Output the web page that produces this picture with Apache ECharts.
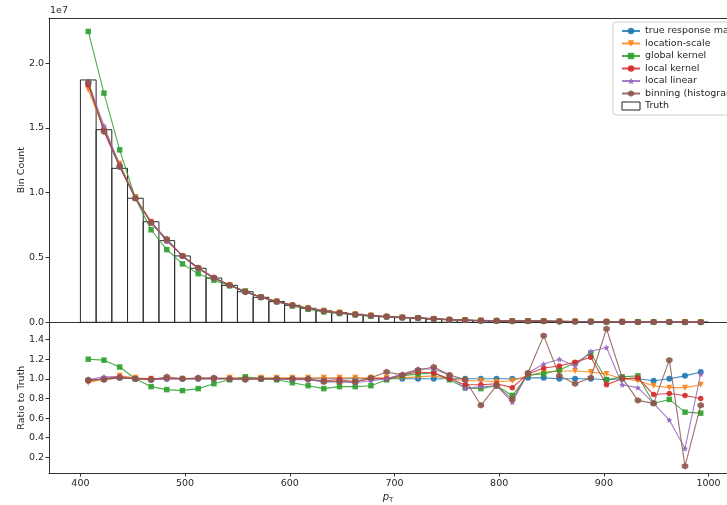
<!DOCTYPE html>
<html><head><meta charset="utf-8">
<script src="https://cdn.jsdelivr.net/npm/echarts@6/dist/echarts.min.js"></script>
<style>html,body{margin:0;padding:0;background:#fff}#c{width:727px;height:505px}</style>
</head><body><div id="c"></div>
<script>
// ---- data ----
const binEdges = [400,415,430,445,460,475,490,505,520,535,550,565,580,595,610,625,640,655,670,685,700,715,730,745,760,775,790,805,820,835,850,865,880,895,910,925,940,955,970,985,1000];
// Truth bin counts, in units of 1e7
const truthE7 = [1.870,1.486,1.188,0.957,0.776,0.630,0.512,0.417,0.342,0.285,0.236,0.193,0.160,0.131,0.108,0.089,0.074,0.062,0.051,0.043,0.036,0.031,0.025,0.020,0.017,0.0145,0.0123,0.0105,0.0089,0.0076,0.0065,0.0055,0.0047,0.0040,0.0034,0.0029,0.0025,0.0021,0.0018,0.0015];
// Ratio to truth per method
const ratioTrueResponse = [0.98,1.00,1.01,1.00,0.99,1.00,1.00,1.00,1.00,1.00, 1.00,1.00,1.00,1.00,1.00,1.00,1.00,1.00,1.00,1.00, 1.00,1.00,1.00,1.00,1.00,1.00,1.00,1.00,1.01,1.01, 1.00,1.00,1.00,0.99,1.00,1.00,0.98,1.00,1.03,1.07];
const ratioLocationScale = [0.96,1.00,1.03,1.01,1.00,1.00,1.00,1.00,1.00,1.01, 1.01,1.01,1.01,1.01,1.01,1.01,1.01,1.01,1.01,1.01, 1.01,1.02,1.03,1.00,0.98,0.98,0.97,0.98,1.03,1.07, 1.08,1.08,1.07,1.05,1.00,0.98,0.93,0.91,0.91,0.94];
const ratioGlobalKernel = [1.20,1.19,1.12,1.00,0.92,0.89,0.88,0.90,0.95,0.99, 1.02,1.00,0.99,0.96,0.93,0.90,0.92,0.92,0.93,0.99, 1.03,1.05,1.06,0.99,0.91,0.90,0.93,0.83,1.04,1.05, 1.09,1.16,1.26,0.99,1.02,1.03,0.75,0.79,0.66,0.65];
const ratioLocalKernel = [0.98,1.00,1.02,1.00,1.00,1.00,1.00,1.00,1.00,1.00, 1.00,1.00,1.00,1.00,0.99,0.98,0.99,0.97,1.00,1.00, 1.04,1.07,1.06,1.00,0.94,0.94,0.95,0.91,1.05,1.11, 1.13,1.17,1.22,0.94,1.00,1.01,0.84,0.85,0.83,0.80];
const ratioLocalLinear = [0.99,1.02,1.02,1.00,0.99,1.00,1.00,1.00,1.00,1.00, 1.00,1.00,1.00,0.99,0.99,0.97,0.97,0.96,0.98,1.00, 1.05,1.10,1.10,1.04,0.90,0.92,0.93,0.76,1.06,1.15, 1.20,1.13,1.28,1.32,0.94,0.91,0.75,0.58,0.29,1.05];
const ratioBinning = [0.99,0.99,1.01,1.00,0.99,1.02,1.00,1.01,1.01,1.00, 0.99,1.00,1.00,1.00,1.00,0.97,0.97,0.97,1.01,1.07, 1.04,1.09,1.12,1.04,0.99,0.73,0.93,0.79,1.06,1.44, 1.03,0.95,1.01,1.51,1.01,0.78,0.75,1.19,0.11,0.73];
const methodNames = ['true response matrix','location-scale','global kernel','local kernel','local linear','binning (histogram)'];
const xTicks = [400,500,600,700,800,900,1000];
const countTicks = [0.0,0.5,1.0,1.5,2.0];
const ratioTicks = [0.2,0.4,0.6,0.8,1.0,1.2,1.4];

// ---- styling ----
const ratios = [ratioTrueResponse, ratioLocationScale, ratioGlobalKernel, ratioLocalKernel, ratioLocalLinear, ratioBinning];
const colors = ['#1f77b4','#ff7f0e','#2ca02c','#d62728','#9467bd','#8c564b'];
const star = 'path://M0,-10L2.9,-4L9.5,-3.1L4.8,1.5L5.9,8.1L0,5L-5.9,8.1L-4.8,1.5L-9.5,-3.1L-2.9,-4Z';
const hexagon = 'path://M0,-10L8.66,-5L8.66,5L0,10L-8.66,5L-8.66,-5Z';
const symbols = ['circle','triangle','rect','circle',star,hexagon];
const symRot = [0,180,0,0,0,0];
const symSize = [6,6,5.5,5.5,6,6.5];
const FONT = 'DejaVu Sans';
const txt = '#262626';
const spine = '#333';
// visible x-range: the figure is cropped on the right, so the axis ends past 1000
const xMin = 370, xMaxVisible = 1017.6;

const centers = binEdges.slice(0,-1).map((e,i)=>(e+binEdges[i+1])/2);

const series = [];
series.push({
  name:'Truth', type:'custom', xAxisIndex:0, yAxisIndex:0, z:1,
  data: truthE7.map((v,i)=>[binEdges[i], binEdges[i+1], v]),
  encode:{x:[0,1], y:2},
  itemStyle:{color:'#fff', borderColor:'#222', borderWidth:1},
  renderItem:function(params, api){
    const p0 = api.coord([api.value(0), api.value(2)]);
    const p1 = api.coord([api.value(1), 0]);
    return {type:'rect', shape:{x:p0[0], y:p0[1], width:p1[0]-p0[0], height:p1[1]-p0[1]},
      style:{fill:'none', stroke:'#2a2a2a', lineWidth:1}};
  }
});
methodNames.forEach((nm,k)=>{
  const common = {
    name:nm, type:'line', symbol:symbols[k], symbolRotate:symRot[k], symbolSize:symSize[k],
    showAllSymbol:true, animation:false, z:3+k,
    lineStyle:{color:colors[k], width:1.1, opacity:0.85},
    itemStyle:{color:colors[k], opacity:0.9}
  };
  series.push(Object.assign({}, common, {
    xAxisIndex:0, yAxisIndex:0,
    data: centers.map((c,i)=>[c, truthE7[i]*ratios[k][i]])
  }));
  series.push(Object.assign({}, common, {
    xAxisIndex:1, yAxisIndex:1,
    data: centers.map((c,i)=>[c, ratios[k][i]])
  }));
});

const axisLabelStyle = {color:txt, fontFamily:FONT, fontSize:9.5};
const lineSt = {show:true, onZero:false, lineStyle:{color:spine, width:1}};
const option = {
  animation:false,
  backgroundColor:'#fff',
  grid:[
    {left:49, top:18, right:0, height:304.3, show:false, containLabel:false},
    {left:49, top:322.3, right:0, height:153, show:false, containLabel:false}
  ],
  xAxis:[
    {gridIndex:0, type:'value', min:xMin, max:xMaxVisible, position:'bottom', axisLabel:{show:false}, axisTick:{show:false}, axisLine:lineSt, splitLine:{show:false}},
    {gridIndex:1, type:'value', min:xMin, max:xMaxVisible, position:'bottom',
     axisLabel:Object.assign({customValues:xTicks, margin:6, formatter:v=>String(v)}, axisLabelStyle),
     axisTick:{customValues:xTicks, length:3.5, lineStyle:{color:spine}},
     axisLine:lineSt, splitLine:{show:false},
     name:'{p|p}{t|T}', nameLocation:'middle', nameGap:18, nameMoveOverlap:false,
     nameTextStyle:{rich:{p:{fontFamily:FONT, fontStyle:'italic', fontSize:10, color:txt}, t:{fontFamily:FONT, fontSize:7, color:txt, verticalAlign:'bottom', padding:[6,0,0,0]}}}
    },
    {gridIndex:0, type:'value', min:xMin, max:xMaxVisible, position:'top', axisLabel:{show:false}, axisTick:{show:false}, axisLine:lineSt, splitLine:{show:false}}
  ],
  yAxis:[
    {gridIndex:0, type:'value', min:0, max:2.348,
     axisLabel:Object.assign({customValues:countTicks, margin:5, formatter:v=>v.toFixed(1)}, axisLabelStyle),
     axisTick:{customValues:countTicks, length:3.5, lineStyle:{color:spine}},
     axisLine:lineSt, splitLine:{show:false},
     name:'Bin Count', nameLocation:'middle', nameGap:22, nameRotate:90, nameMoveOverlap:false,
     nameTextStyle:{fontFamily:FONT, fontSize:9.5, color:txt}
    },
    {gridIndex:1, type:'value', min:0.04, max:1.576,
     axisLabel:Object.assign({customValues:ratioTicks, margin:5, formatter:v=>v.toFixed(1)}, axisLabelStyle),
     axisTick:{customValues:ratioTicks, length:3.5, lineStyle:{color:spine}},
     axisLine:lineSt, splitLine:{show:false},
     name:'Ratio to Truth', nameLocation:'middle', nameGap:22, nameRotate:90, nameMoveOverlap:false,
     nameTextStyle:{fontFamily:FONT, fontSize:9.5, color:txt}
    }
  ],
  legend:{
    orient:'vertical', left:613, top:22,
    padding:[4,6,4,8], itemGap:2.5, itemWidth:18, itemHeight:8,
    backgroundColor:'#fff', borderColor:'#ccc', borderWidth:1, borderRadius:3,
    textStyle:{fontFamily:FONT, fontSize:9.5, color:txt},
    data: methodNames.map(n=>({name:n})).concat([{name:'Truth', icon:'rect', itemStyle:{color:'#fff', borderColor:'#222', borderWidth:1}}]),
    selectedMode:false
  },
  graphic:[
    {type:'text', left:50, top:6, style:{text:'1e7', fontFamily:FONT, fontSize:9.5, fill:txt}}
  ],
  series:series
};
const chart = echarts.init(document.getElementById('c'), null, {renderer:'canvas'});
chart.setOption(option);
</script>
</body></html>
